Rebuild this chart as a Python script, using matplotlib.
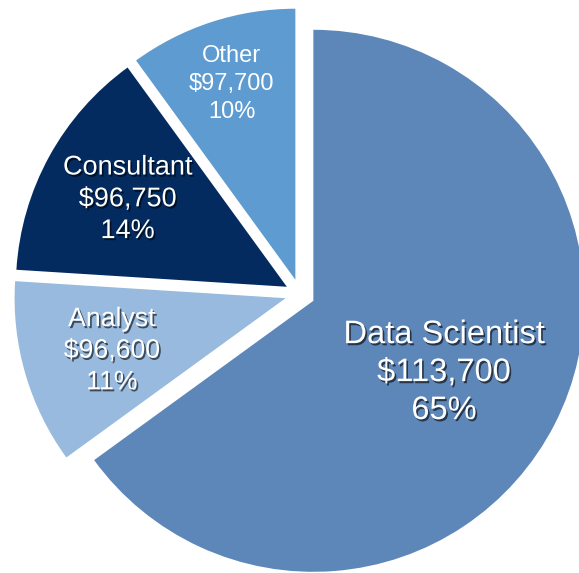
import matplotlib
matplotlib.use("Agg")
import matplotlib.pyplot as plt
import matplotlib.patheffects as pe
import numpy as np

categories = ["Data Scientist", "Analyst", "Consultant", "Other"]
salaries = ["$113,700", "$96,600", "$96,750", "$97,700"]
shares = [65, 11, 14, 10]

colors = ["#5D86B9", "#97BADE", "#032B60", "#5D9BD1"]
label_dist = [0.55, 0.67, 0.67, 0.758]
label_rot = [-1.8, 0.6, 0.0, 0.0]
label_size = [23.5, 19.2, 19.5, 17]
label_spacing = [1.29, 1.28, 1.29, 1.36]
label_shadow = [True, True, True, False]

fig = plt.figure(figsize=(5.79, 5.73), dpi=100)
ax = fig.add_axes([0, 0, 1, 1])

cx, cy, R = 300, 279, 271
explode_px = 15
wedges, _ = ax.pie(shares, colors=colors, startangle=90, counterclock=False,
                   center=(cx, cy), radius=R,
                   explode=[explode_px] * len(shares),
                   wedgeprops=dict(linewidth=0))
ax.set_xlim(0, 579)
ax.set_ylim(0, 573)
ax.set_aspect("equal")
ax.axis("off")

for w, cat, sal, sh, d, rot, fs, ls, shad in zip(wedges, categories, salaries, shares,
                                                  label_dist, label_rot, label_size,
                                                  label_spacing, label_shadow):
    ang = np.deg2rad((w.theta1 + w.theta2) / 2 + rot)
    x = w.center[0] + d * R * np.cos(ang)
    y = w.center[1] + d * R * np.sin(ang)
    effects = []
    if shad:
        effects = [pe.withSimplePatchShadow(offset=(1.2, -1.5), shadow_rgbFace="black", alpha=0.6)]
    ax.text(x, y, f"{cat}\n{sal}\n{sh}%", ha="center", va="center",
            fontsize=fs, color="white", family="Liberation Sans",
            linespacing=ls, path_effects=effects)

fig.savefig("out.png", dpi=100)
